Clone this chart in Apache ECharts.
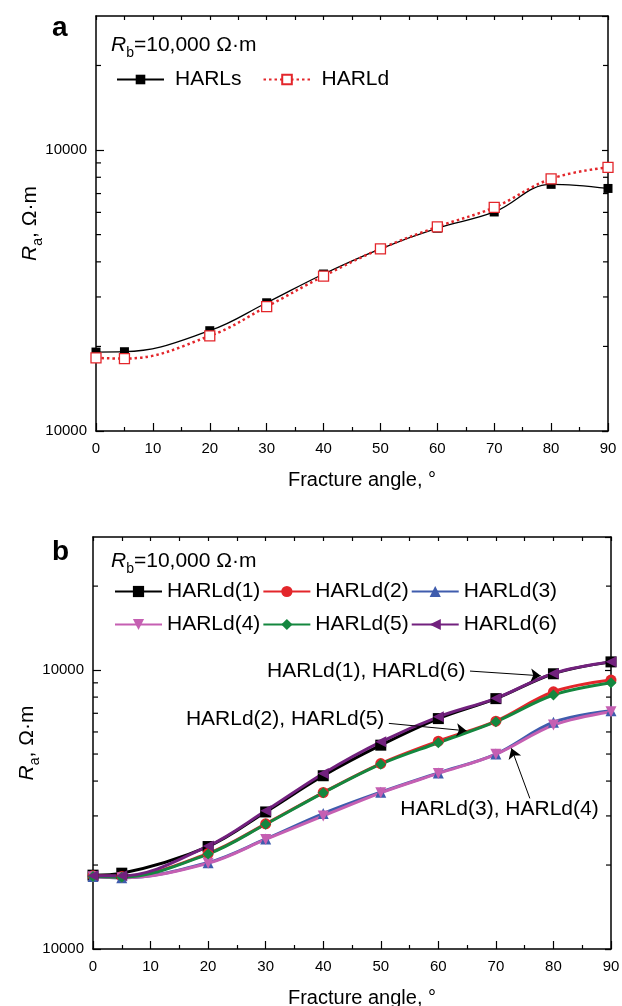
<!DOCTYPE html>
<html>
<head>
<meta charset="utf-8">
<script src="https://cdn.jsdelivr.net/npm/echarts@6/dist/echarts.min.js"></script>
<style>
html, body { margin: 0; padding: 0; background: #fff; }
#chart { width: 622px; height: 1006px; }
</style>
</head>
<body>
<div id="chart"></div>
<script>
// 面板 a 数据
const anglesA = [0, 5, 20, 30, 40, 50, 60, 70, 80, 90]
const harlsA = [1910, 1915, 2275, 2860, 3620, 4450, 5270, 6020, 7550, 7300]
const harldA = [1820, 1810, 2180, 2770, 3560, 4450, 5330, 6250, 7900, 8680]

// 面板 b 数据
const anglesB = [0, 5, 20, 30, 40, 50, 60, 70, 80, 90]
const harld1 = [1840, 1870, 2330, 3100, 4180, 5380, 6700, 7900, 9700, 10700]
const harld2 = [1830, 1820, 2200, 2810, 3640, 4620, 5560, 6560, 8360, 9210]
const harld3 = [1820, 1800, 2040, 2480, 3060, 3650, 4280, 5000, 6500, 7150]
const harld4 = [1815, 1800, 2030, 2470, 3000, 3630, 4260, 4990, 6350, 7090]
const harld5 = [1820, 1810, 2190, 2800, 3630, 4600, 5490, 6530, 8140, 9010]
const harld6 = [1830, 1830, 2340, 3130, 4260, 5530, 6800, 7920, 9730, 10710]

// 刻度
const yTickValues = [1000, 10000]
const yTickLabels = ['10000', '10000']
const yMinorTicks = [2000, 3000, 4000, 5000, 6000, 7000, 8000, 9000, 20000]

// 面板 b 注释 (数据坐标)
const annotTexts = ['HARLd(1), HARLd(6)', 'HARLd(2), HARLd(5)', 'HARLd(3), HARLd(4)']
const annotAt = [[64.8, 9920], [50.7, 6670], [53.3, 3178]]
const annotSide = ['left', 'left', 'right']
const arrowFrom = [[65.5, 9918], [51.4, 6440], [75.9, 3467]]
const arrowTo = [[77.8, 9541], [64.9, 6056], [72.7, 5240]]

const FONT = 'Liberation Sans, Arial, sans-serif'
const chart = echarts.init(document.getElementById('chart'))

const grids = [
  { left: 96, top: 16, width: 512, height: 415, outerBoundsMode: 'none', containLabel: false },
  { left: 93, top: 537, width: 518, height: 412, outerBoundsMode: 'none', containLabel: false }
]

const nameRich = {
  i: { fontStyle: 'italic', fontWeight: 'normal', fontSize: 21, fontFamily: FONT, color: '#000' },
  s: { fontSize: 14, fontWeight: 'normal', fontFamily: FONT, color: '#000', padding: [16, 0, 0, 0] },
  n: { fontSize: 21, fontWeight: 'normal', fontFamily: FONT, color: '#000' }
}

const xAxes = []
const yAxes = []
grids.forEach((g, gi) => {
  xAxes.push({
    gridIndex: gi, type: 'value', min: 0, max: 90, interval: 10,
    name: 'Fracture angle, °', nameLocation: 'middle', nameGap: 39,
    nameTextStyle: { fontSize: 20, fontFamily: FONT, color: '#000', padding: [0, 0, 0, 20] },
    axisLine: { onZero: false, lineStyle: { color: '#000', width: 1.5 } },
    axisTick: { inside: true, length: 8, lineStyle: { color: '#000', width: 1.2 } },
    minorTick: { show: true, splitNumber: 2, length: 4, lineStyle: { color: '#000', width: 1.2 } },
    axisLabel: { fontSize: 15, fontFamily: FONT, color: '#000', margin: 10 },
    splitLine: { show: false }
  })
  xAxes.push({
    gridIndex: gi, type: 'value', position: 'top', min: 0, max: 90, interval: 5,
    axisLine: { onZero: false, lineStyle: { color: '#000', width: 1.5 } },
    axisTick: { inside: true, length: 4, lineStyle: { color: '#000', width: 1.2 } },
    axisLabel: { show: false },
    splitLine: { show: false }
  })
  yAxes.push({
    gridIndex: gi, type: 'log', logBase: 10, min: 1000, max: 30000,
    name: '{i|R}{s|a}{n|, Ω·m}', nameLocation: 'middle', nameGap: 51, nameRotate: 90,
    nameMoveOverlap: false,
    nameTextStyle: { rich: nameRich },
    axisLine: { onZero: false, lineStyle: { color: '#000', width: 1.5 } },
    axisTick: { inside: true, length: 8, lineStyle: { color: '#000', width: 1.2 } },
    axisLabel: {
      fontSize: 15, fontFamily: FONT, color: '#000', margin: 9, showMaxLabel: false,
      formatter: (v) => {
        const k = yTickValues.findIndex(t => Math.abs(t - v) < 1e-6 * t)
        return k >= 0 ? yTickLabels[k] : ''
      }
    },
    splitLine: { show: false }
  })
  yAxes.push({
    gridIndex: gi, type: 'log', logBase: 10, min: 1000, max: 30000, position: 'right',
    axisLine: { onZero: false, lineStyle: { color: '#000', width: 1.5 } },
    axisTick: { inside: true, length: 6, lineStyle: { color: '#000', width: 1.2 } },
    axisLabel: { show: false },
    splitLine: { show: false }
  })
})

// 对数轴的次刻度 (左右两侧)
const minorTickSeries = (gi) => ({
  type: 'custom', xAxisIndex: gi * 2, yAxisIndex: gi * 2, silent: true, z: 1,
  data: yMinorTicks.map(v => [0, v]),
  renderItem: (params, api) => {
    const l = api.coord([0, api.value(1)])
    const r = api.coord([90, api.value(1)])
    const st = { stroke: '#000', lineWidth: 1.2 }
    return {
      type: 'group',
      children: [
        { type: 'line', shape: { x1: l[0], y1: l[1], x2: l[0] + 5, y2: l[1] }, style: st },
        { type: 'line', shape: { x1: r[0] - 5, y1: r[1], x2: r[0], y2: r[1] }, style: st }
      ]
    }
  }
})

const pairs = (xs, ys) => xs.map((x, i) => [x, ys[i]])

const lineB = (name, data, color, symbol, rotate) => ({
  name, type: 'line', xAxisIndex: 2, yAxisIndex: 2, smooth: 0.35,
  data: pairs(anglesB, data),
  symbol, symbolSize: 11, symbolRotate: rotate || 0,
  lineStyle: { color, width: 3 },
  itemStyle: { color }
})

const seriesB = [
  lineB('HARLd(1)', harld1, '#000000', 'rect'),
  lineB('HARLd(2)', harld2, '#e3262b', 'circle'),
  lineB('HARLd(3)', harld3, '#3f5cad', 'triangle'),
  lineB('HARLd(4)', harld4, '#c55fb2', 'triangle', 180),
  lineB('HARLd(5)', harld5, '#14873f', 'diamond'),
  lineB('HARLd(6)', harld6, '#72217e', 'triangle', 90)
]

// 注释: 箭头和文字
seriesB[5].markLine = {
  silent: true, animation: false,
  symbol: ['none', 'arrow'], symbolSize: 10,
  lineStyle: { color: '#000', width: 1, type: 'solid' },
  label: { show: false },
  emphasis: { disabled: true },
  data: arrowFrom.map((p, i) => [{ coord: p }, { coord: arrowTo[i] }])
}
seriesB[5].markPoint = {
  silent: true, animation: false,
  symbol: 'circle', symbolSize: 1,
  itemStyle: { color: 'rgba(0,0,0,0)' },
  data: annotTexts.map((t, i) => ({
    name: t, coord: annotAt[i],
    label: {
      show: true, position: annotSide[i], distance: 0, formatter: '{b}',
      fontSize: 21, fontFamily: FONT, color: '#000'
    }
  }))
}

const legendText = { fontSize: 21, fontFamily: FONT, color: '#000' }

const option = {
  animation: false,
  title: [
    { text: 'a', left: 52, top: 14, padding: 0, textStyle: { fontSize: 28, fontWeight: 'bold', fontFamily: FONT, color: '#000' } },
    { text: '{i|R}{s|b}{n|=10,000 Ω·m}', left: 111, top: 30, padding: 0, textStyle: { fontWeight: 'normal', rich: nameRich } },
    { text: 'b', left: 52, top: 538, padding: 0, textStyle: { fontSize: 28, fontWeight: 'bold', fontFamily: FONT, color: '#000' } },
    { text: '{i|R}{s|b}{n|=10,000 Ω·m}', left: 111, top: 546, padding: 0, textStyle: { fontWeight: 'normal', rich: nameRich } }
  ],
  legend: [
    {
      data: ['HARLs', 'HARLd'], left: 116, top: 69, padding: 0,
      itemWidth: 47, itemHeight: 12, itemGap: 21,
      textStyle: { ...legendText, padding: [0, 0, 0, 6] }
    },
    {
      data: ['HARLd(1)', 'HARLd(2)', 'HARLd(3)'], left: 114, top: 581, padding: 0,
      itemWidth: 47, itemHeight: 14, itemGap: 2, textStyle: legendText
    },
    {
      data: ['HARLd(4)', 'HARLd(5)', 'HARLd(6)'], left: 114, top: 614, padding: 0,
      itemWidth: 47, itemHeight: 14, itemGap: 2, textStyle: legendText
    }
  ],
  grid: grids,
  xAxis: xAxes,
  yAxis: yAxes,
  series: [
    minorTickSeries(0),
    minorTickSeries(1),
    {
      name: 'HARLs', type: 'line', xAxisIndex: 0, yAxisIndex: 0, smooth: 0.4,
      data: pairs(anglesA, harlsA),
      symbol: 'rect', symbolSize: 9,
      lineStyle: { color: '#000', width: 1.3 },
      itemStyle: { color: '#000' }
    },
    {
      name: 'HARLd', type: 'line', xAxisIndex: 0, yAxisIndex: 0, smooth: 0.4,
      data: pairs(anglesA, harldA),
      symbol: 'rect', symbolSize: 10,
      lineStyle: { color: '#e3262b', width: 2.5, type: [2.5, 3] },
      itemStyle: { color: '#fff', borderColor: '#e3262b', borderWidth: 1.3 }
    },
    ...seriesB
  ]
}

chart.setOption(option)
</script>
</body>
</html>
